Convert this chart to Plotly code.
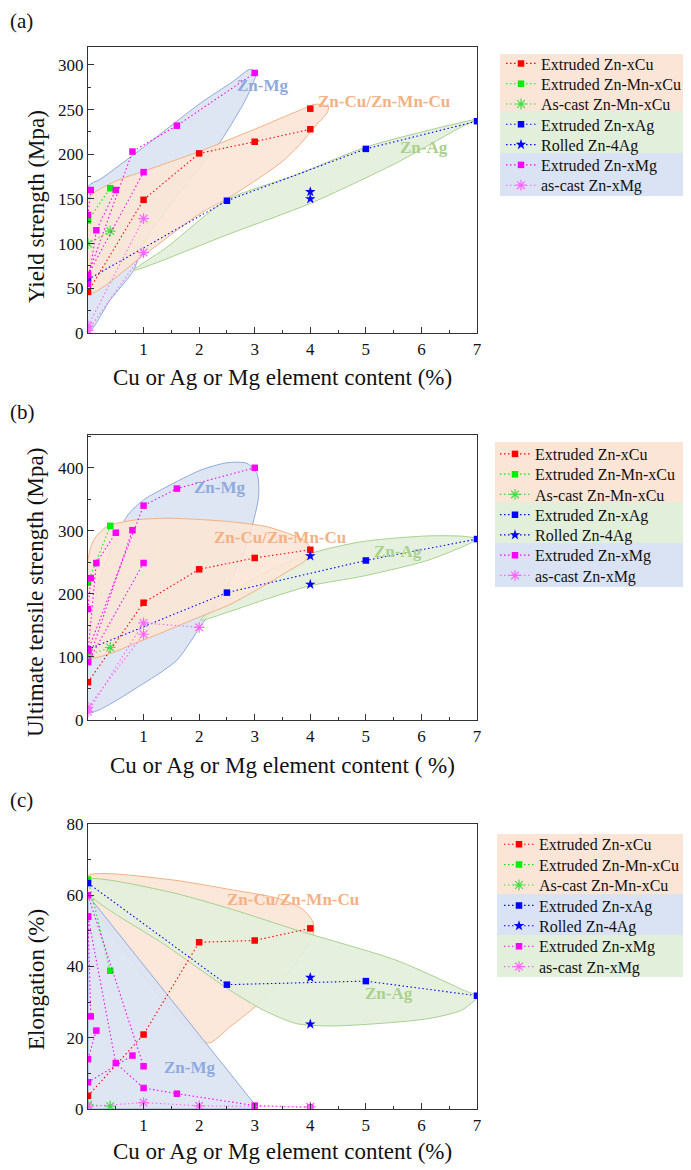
import plotly.graph_objects as go

FONT = 'Liberation Serif, Times New Roman, serif'
W, H = 691, 1170
PAGE_PAD = 8              # default <body> margin of the html page
FW, FH = W - PAGE_PAD, H - PAGE_PAD

# series shared by the three panels
names = ['Extruded Zn-xCu', 'Extruded Zn-Mn-xCu', 'As-cast Zn-Mn-xCu',
         'Extruded Zn-xAg', 'Rolled Zn-4Ag', 'Extruded Zn-xMg', 'as-cast Zn-xMg']
colors = ['#ff0000', '#00ee00', '#44dd44', '#0000ff', '#0000ff', '#ff00ff', '#ff66ff']
symbols = ['square', 'square', 'asterisk-open', 'square', 'star', 'square', 'asterisk-open']
x_ticks = [1, 2, 3, 4, 5, 6, 7]

# (a) yield strength (MPa)
ys_cu_x = [0, 1, 2, 3, 4, None, 4]
ys_cu_y = [46, 149, 201, 214, 228, None, 251]
ys_mncu_x = [0, 0.4]
ys_mncu_y = [126, 162]
ys_mncu_cast_x = [0, 0.4]
ys_mncu_cast_y = [100, 114]
ys_ag_x = [0, 2.5, 5, 7]
ys_ag_y = [60, 148, 206, 237]
ys_ag_roll_x = [4, None, 4]
ys_ag_roll_y = [158, None, 150]
ys_mg_x = [0, 0.15, 0.5, None, 0, 0.05, None, 0, 1, None, 0, 0.8, 1.6, 3]
ys_mg_y = [55, 115, 160, None, 132, 160, None, 65, 180, None, 65, 203, 232, 291]
ys_mg_cast_x = [0, 1, None, 0, 1]
ys_mg_cast_y = [8, 128, None, 3, 90]

# (b) ultimate tensile strength (MPa)
uts_cu_x = [0, 1, 2, 3, 4]
uts_cu_y = [60, 186, 239, 257, 270]
uts_mncu_x = [0, 0.4]
uts_mncu_y = [218, 308]
uts_mncu_cast_x = [0, 0.4]
uts_mncu_cast_y = [103, 115]
uts_ag_x = [0, 2.5, 5, 7]
uts_ag_y = [112, 202, 253, 287]
uts_ag_roll_x = [4, None, 4]
uts_ag_roll_y = [260, None, 215]
uts_mg_x = [0, 0.15, 0.5, None, 0, 0.05, None, 0, 1, None, 0, 0.8, None, 0, 1, 1.6, 3]
uts_mg_y = [110, 249, 297, None, 176, 225, None, 92, 249, None, 92, 301, None, 110, 340, 367, 400]
uts_mg_cast_x = [0, 1, None, 0, 1, 2]
uts_mg_cast_y = [20, 136, None, 13, 154, 147]

# (c) elongation (%)
el_cu_x = [0, 1, 2, 3, 4]
el_cu_y = [3.7, 20.9, 46.8, 47.3, 50.7]
el_mncu_x = [0, 0.4]
el_mncu_y = [64.4, 38.8]
el_mncu_cast_x = [0, 0.4]
el_mncu_cast_y = [1.2, 0.8]
el_ag_x = [0, 2.5, 5, 7]
el_ag_y = [63.4, 34.9, 35.9, 31.8]
el_ag_roll_x = [4, None, 4]
el_ag_roll_y = [36.9, None, 23.8]
el_mg_x = [0, 1, None, 0, 0.5, 1, 1.6, 3, 4, None, 0, 0.15, None, 0, 0.8, None, 0, 0.05]
el_mg_y = [60, 12, None, 54, 12.9, 5.9, 4.3, 0.94, 0.5, None, 14, 22, None, 7.5, 15, None, 54, 26]
el_mg_cast_x = [0, 1, 2, 4]
el_mg_cast_y = [0.7, 1.8, 0.9, 0.6]

# hand-drawn alloy zones (outline points)
ys_mg_zone_x = [0, 0, 0.22, 1, 2.02, 2.6, 2.92, 3.02, 2.86, 2.38, 2.02, 1.54, 1.0, 0.82, 0.4, 0]
ys_mg_zone_y = [0, 164, 172, 208, 257, 281, 295, 291, 264, 214, 186, 149, 100, 70, 37, 0]
ys_cu_zone_x = [0, 0, 0.5, 1, 2, 3, 3.8, 4.1, 4.33, 4.3, 4.1, 3.8, 3.5, 3.0, 2.55, 2.0, 1.0, 0]
ys_cu_zone_y = [44, 150, 170, 181, 203, 228, 249, 256, 253, 246, 232, 210, 192, 170, 152, 133, 87, 44]
ys_ag_zone_x = [0.82, 1.42, 2.5, 3.75, 5, 6.14, 7, 6.73, 5.54, 4, 2.55, 0.82]
ys_ag_zone_y = [70, 96, 149, 177, 208, 227, 239, 231, 190, 145, 111, 70]

uts_mg_zone_x = [0, 1, 1.6, 2.02, 2.5, 2.86, 3.07, 3.04, 2.86, 2.5, 2.02, 1.42, 1.0, 0.7, 0.2, 0, 0]
uts_mg_zone_y = [12, 58, 95, 148, 211, 280, 354, 391, 407, 408, 396, 370, 349, 323, 220, 100, 12]
uts_cu_zone_x = [0, 0, 0.1, 0.34, 0.82, 1.42, 2.02, 2.62, 3.2, 3.6, 3.9, 4.02, 3.9, 3.6, 3.15, 2.55, 2.02, 1.0, 0]
uts_cu_zone_y = [100, 254, 285, 307, 317, 320, 318, 314, 307, 296, 284, 268, 252, 236, 212, 183, 164, 127, 100]
uts_ag_zone_x = [2.02, 2.55, 3.15, 4, 4.94, 6.14, 7, 6.8, 6.13, 4.94, 4, 3, 2.02]
uts_ag_zone_y = [158, 172, 190, 213, 228, 254, 287, 291, 292, 283, 264, 225, 158]

el_cu_zone_x = [0, 1.42, 2.6, 3.45, 3.87, 4.05, 4.05, 3.6, 3.03, 2.55, 2.14, 0, 0]
el_cu_zone_y = [65.5, 64.5, 61.5, 59, 56, 52.5, 48.7, 38, 29, 23, 18.5, 60, 65.5]
el_ag_zone_x = [0, 1.42, 2.6, 3.8, 5.54, 6.74, 7, 6.73, 6.14, 5.24, 4.34, 3.74, 3.15, 2.55, 1.42, 0, 0]
el_ag_zone_y = [64.4, 61.1, 56, 50, 41.8, 33.5, 31.5, 27.8, 25.4, 24, 23.3, 24, 27.8, 33.4, 45.7, 60.6, 64.4]
el_mg_zone_x = [0, 0, 3, 3, 0]
el_mg_zone_y = [0, 60, 1.3, 0, 0]

ZONE = {
    'mg': ('#8faadc', 'rgba(218,227,243,0.9)'),
    'cu': ('#f4b183', 'rgba(251,229,214,0.9)'),
    'ag': ('#a9d18e', 'rgba(226,239,218,0.9)'),
}
BAND = {'cu': '#fbe5d6', 'ag': '#e2efda', 'mg': '#dae3f3'}

panels = [
    dict(label='(a)', label_y=21, top=47, bottom=333, yr=[0, 320], dtick=50, minor=25,
         ytitle='Yield strength (Mpa)', ytitle_y=207,
         xtitle='Cu or Ag or Mg element content (%)', xtitle_y=377,
         series=[(ys_cu_x, ys_cu_y), (ys_mncu_x, ys_mncu_y), (ys_mncu_cast_x, ys_mncu_cast_y),
                 (ys_ag_x, ys_ag_y), (ys_ag_roll_x, ys_ag_roll_y),
                 (ys_mg_x, ys_mg_y), (ys_mg_cast_x, ys_mg_cast_y)],
         zones=[('mg', ys_mg_zone_x, ys_mg_zone_y), ('ag', ys_ag_zone_x, ys_ag_zone_y),
                ('cu', ys_cu_zone_x, ys_cu_zone_y)],
         tags=[('mg', 'Zn-Mg', 3.15, 277), ('cu', 'Zn-Cu/Zn-Mn-Cu', 5.33, 259), ('ag', 'Zn-Ag', 6.05, 207)],
         leg_x=501, leg_y0=63.5, leg_dy=20.3, band_x=(500, 688),
         bands=[(54, 111, 'cu'), (111, 153, 'ag'), (153, 196, 'mg')]),
    dict(label='(b)', label_y=412, top=435, bottom=720, yr=[0, 452], dtick=100, minor=50,
         ytitle='Ultimate tensile strength (Mpa)', ytitle_y=593,
         xtitle='Cu or Ag or Mg element content ( %)', xtitle_y=765,
         series=[(uts_cu_x, uts_cu_y), (uts_mncu_x, uts_mncu_y), (uts_mncu_cast_x, uts_mncu_cast_y),
                 (uts_ag_x, uts_ag_y), (uts_ag_roll_x, uts_ag_roll_y),
                 (uts_mg_x, uts_mg_y), (uts_mg_cast_x, uts_mg_cast_y)],
         zones=[('mg', uts_mg_zone_x, uts_mg_zone_y), ('ag', uts_ag_zone_x, uts_ag_zone_y),
                ('cu', uts_cu_zone_x, uts_cu_zone_y)],
         tags=[('mg', 'Zn-Mg', 2.37, 368), ('cu', 'Zn-Cu/Zn-Mn-Cu', 3.46, 289), ('ag', 'Zn-Ag', 5.57, 267)],
         leg_x=495, leg_y0=454, leg_dy=20.25, band_x=(495, 683),
         bands=[(442, 502, 'cu'), (502, 543, 'ag'), (543, 587, 'mg')]),
    dict(label='(c)', label_y=800, top=824, bottom=1109, yr=[0, 80], dtick=20, minor=10,
         ytitle='Elongation (%)', ytitle_y=980,
         xtitle='Cu or Ag or Mg element content (%)', xtitle_y=1151,
         series=[(el_cu_x, el_cu_y), (el_mncu_x, el_mncu_y), (el_mncu_cast_x, el_mncu_cast_y),
                 (el_ag_x, el_ag_y), (el_ag_roll_x, el_ag_roll_y),
                 (el_mg_x, el_mg_y), (el_mg_cast_x, el_mg_cast_y)],
         zones=[('cu', el_cu_zone_x, el_cu_zone_y), ('ag', el_ag_zone_x, el_ag_zone_y),
                ('mg', el_mg_zone_x, el_mg_zone_y)],
         tags=[('cu', 'Zn-Cu/Zn-Mn-Cu', 3.68, 58.9), ('ag', 'Zn-Ag', 5.42, 32.5), ('mg', 'Zn-Mg', 1.84, 11.6)],
         leg_x=499, leg_y0=844.3, leg_dy=20.4, band_x=(497, 685),
         bands=[(834, 894, 'cu'), (894, 935, 'mg'), (935, 977, 'ag')]),
]


# page pixel -> paper fraction (the figure starts PAGE_PAD px into the page)
def fx(p):
    return (p - PAGE_PAD) / FW


def fy(p):
    return 1 - (p - PAGE_PAD) / FH


fig = go.Figure()
layout = dict(width=FW, height=FH, margin=dict(l=0, r=0, t=0, b=0, pad=0, autoexpand=False),
              paper_bgcolor='white', plot_bgcolor='white', showlegend=True,
              font=dict(family=FONT, color='#111'))
shapes = []
annotations = []

for i, p in enumerate(panels):
    sfx = '' if i == 0 else str(i + 1)
    xa, ya = 'x' + sfx, 'y' + sfx

    # zones first so the data sits on top
    for key, zx, zy in p['zones']:
        edge, fill = ZONE[key]
        fig.add_trace(go.Scatter(
            x=zx, y=zy, xaxis=xa, yaxis=ya, mode='lines', fill='toself',
            fillcolor=fill, line=dict(color=edge, width=1,
                                      shape='linear' if key == 'mg' and i == 2 else 'spline',
                                      smoothing=0.7),
            hoverinfo='skip', showlegend=False))

    for j, (sx, sy) in enumerate(p['series']):
        idx = i * 7 + j
        leg = 'legend' if idx == 0 else 'legend%d' % (idx + 1)
        open_sym = symbols[j].startswith('asterisk')
        fig.add_trace(go.Scatter(
            x=sx, y=sy, xaxis=xa, yaxis=ya, name=names[j], legend=leg,
            mode='lines+markers',
            line=dict(color=colors[j], width=1.1, dash='1.5px,2.5px'),
            marker=dict(symbol=symbols[j], size=9 if open_sym else (8 if symbols[j] == 'star' else 6.5),
                        color=colors[j], line=dict(color=colors[j], width=1.2 if open_sym else 0)),
        ))
        layout[leg] = dict(
            x=fx(p['leg_x']), y=fy(p['leg_y0'] + j * p['leg_dy']),
            xanchor='left', yanchor='middle', bgcolor='rgba(0,0,0,0)', borderwidth=0,
            font=dict(family=FONT, size=16, color='#111'))

    layout['xaxis' + sfx] = dict(
        domain=[fx(88), fx(477)], range=[0, 7], anchor=ya, tickvals=x_ticks,
        ticks='inside', ticklen=6, tickwidth=1, tickcolor='#333',
        minor=dict(ticks='inside', ticklen=3, dtick=0.5, tickcolor='#333'),
        showline=True, linecolor='#333', linewidth=1.2, mirror=True,
        showgrid=False, zeroline=False, automargin=False,
        tickfont=dict(family=FONT, size=17, color='#111'))
    layout['yaxis' + sfx] = dict(
        domain=[fy(p['bottom']), fy(p['top'])], range=p['yr'], anchor=xa,
        dtick=p['dtick'], tick0=0,
        ticks='inside', ticklen=6, tickwidth=1, tickcolor='#333',
        minor=dict(ticks='inside', ticklen=3, dtick=p['minor'], tickcolor='#333'),
        showline=True, linecolor='#333', linewidth=1.2, mirror=True,
        showgrid=False, zeroline=False, automargin=False,
        tickfont=dict(family=FONT, size=17, color='#111'))

    for key, txt, tx, ty in p['tags']:
        annotations.append(dict(
            x=tx, y=ty, xref=xa, yref=ya, text='<b>%s</b>' % txt, showarrow=False,
            xanchor='center', yanchor='middle',
            font=dict(family=FONT, size=17, color=ZONE[key][0])))

    annotations.append(dict(x=fx(PAGE_PAD), y=fy(p['label_y']), xref='paper', yref='paper',
                            xanchor='left', yanchor='middle', text=p['label'], showarrow=False,
                            font=dict(family=FONT, size=21, color='#111')))
    annotations.append(dict(x=fx(36), y=fy(p['ytitle_y']), xref='paper', yref='paper',
                            xanchor='center', yanchor='middle',
                            text=p['ytitle'], textangle=-90, showarrow=False,
                            font=dict(family=FONT, size=23, color='#111')))
    annotations.append(dict(x=fx(282), y=fy(p['xtitle_y']), xref='paper', yref='paper',
                            xanchor='center', yanchor='middle',
                            text=p['xtitle'], showarrow=False,
                            font=dict(family=FONT, size=23, color='#111')))

    for y0, y1, key in p['bands']:
        shapes.append(dict(type='rect', xref='paper', yref='paper', layer='below',
                           x0=fx(p['band_x'][0]), x1=fx(p['band_x'][1]),
                           y0=fy(y1), y1=fy(y0), fillcolor=BAND[key], line=dict(width=0)))

layout['shapes'] = shapes
layout['annotations'] = annotations
fig.update_layout(**layout)

fig.write_html("out.html")
